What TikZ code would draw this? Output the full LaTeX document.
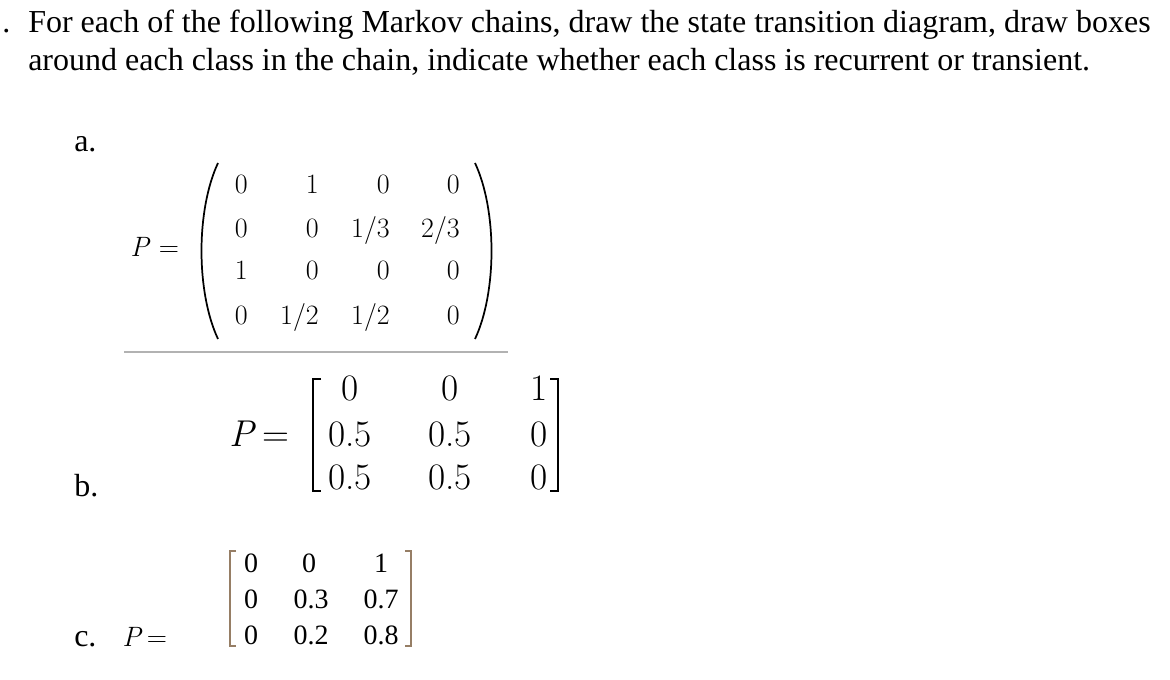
\documentclass[tikz,border=0pt]{standalone}
\usepackage{fontspec}
\setmainfont{Liberation Serif}
\newfontfamily\lmr{Latin Modern Roman}
\begin{document}
\begin{tikzpicture}[x=0.75pt,y=-0.75pt,
  txt/.style={anchor=base west,inner sep=0pt,font=\fontsize{24}{28}\selectfont},
  ea/.style={anchor=base east,inner sep=0pt,font=\lmr\fontsize{21}{23}\selectfont},
  eb/.style={anchor=base,inner sep=0pt,font=\lmr\fontsize{28}{30}\selectfont},
  ec/.style={anchor=base,inner sep=0pt,font=\fontsize{21}{23}\selectfont},
  brc/.style={line width=1.2pt,draw=black!45!brown!70}]
\useasboundingbox (0,0) rectangle (1170,680);
\node[txt] (t0) at (2,33) {.};
\node[txt] (t1) at (28,33) {For each of the following Markov chains, draw the state transition diagram, draw boxes};
\node[txt] (t2) at (28,71) {around each class in the chain, indicate whether each class is recurrent or transient.};
\node[txt] (la) at (74,152) {a.};
\node[txt] (lb) at (74,496) {b.};
\node[txt] (lc) at (74,646) {c.};
% matrix a
\node[anchor=base west,inner sep=0pt,font=\lmr\fontsize{21}{23}\selectfont] (pa) at (130,257) {\textit{P} =};
\draw[line width=1.3pt] (218,163) .. controls (196,210) and (196,292) .. (218,339);
\draw[line width=1.3pt] (475,163) .. controls (497,210) and (497,292) .. (475,339);
\node[ea] at (248,194) {0}; \node[ea] at (319,194) {1}; \node[ea] at (390,194) {0}; \node[ea] at (460,194) {0};
\node[ea] at (248,238) {0}; \node[ea] at (319,238) {0}; \node[ea] at (390,238) {1/3}; \node[ea] at (460,238) {2/3};
\node[ea] at (248,280) {1}; \node[ea] at (319,280) {0}; \node[ea] at (390,280) {0}; \node[ea] at (460,280) {0};
\node[ea] at (248,325) {0}; \node[ea] at (319,325) {1/2}; \node[ea] at (390,325) {1/2}; \node[ea] at (460,325) {0};
\draw[gray!60,line width=0.8pt] (124,352) -- (508,352);
% matrix b
\node[anchor=base west,inner sep=0pt,font=\lmr\fontsize{28}{30}\selectfont] (pb) at (229,446) {\textit{P}\,=};
\draw[line width=1.5pt] (321,379) -- (313,379) -- (313,491) -- (321,491);
\draw[line width=1.5pt] (550,379) -- (558,379) -- (558,491) -- (550,491);
\node[eb] at (350,401) {0}; \node[eb] at (450,401) {0}; \node[eb] at (539,401) {1};
\node[eb] at (350,446) {0.5}; \node[eb] at (450,446) {0.5}; \node[eb] at (539,446) {0};
\node[eb] at (350,489) {0.5}; \node[eb] at (450,489) {0.5}; \node[eb] at (539,489) {0};
% matrix c
\node[anchor=base west,inner sep=0pt,font=\lmr\fontsize{21}{23}\selectfont] (pc) at (122,646) {\textit{P}\,=};
\draw[brc] (236,551) -- (230,551) -- (230,646) -- (236,646);
\draw[brc] (405,551) -- (411,551) -- (411,646) -- (405,646);
\node[ec] at (251,572) {0}; \node[ec] at (309,572) {0}; \node[ec] at (381,572) {1};
\node[ec] at (251,608) {0}; \node[ec] at (311,608) {0.3}; \node[ec] at (381,608) {0.7};
\node[ec] at (251,644) {0}; \node[ec] at (311,644) {0.2}; \node[ec] at (381,644) {0.8};
\end{tikzpicture}
\end{document}
